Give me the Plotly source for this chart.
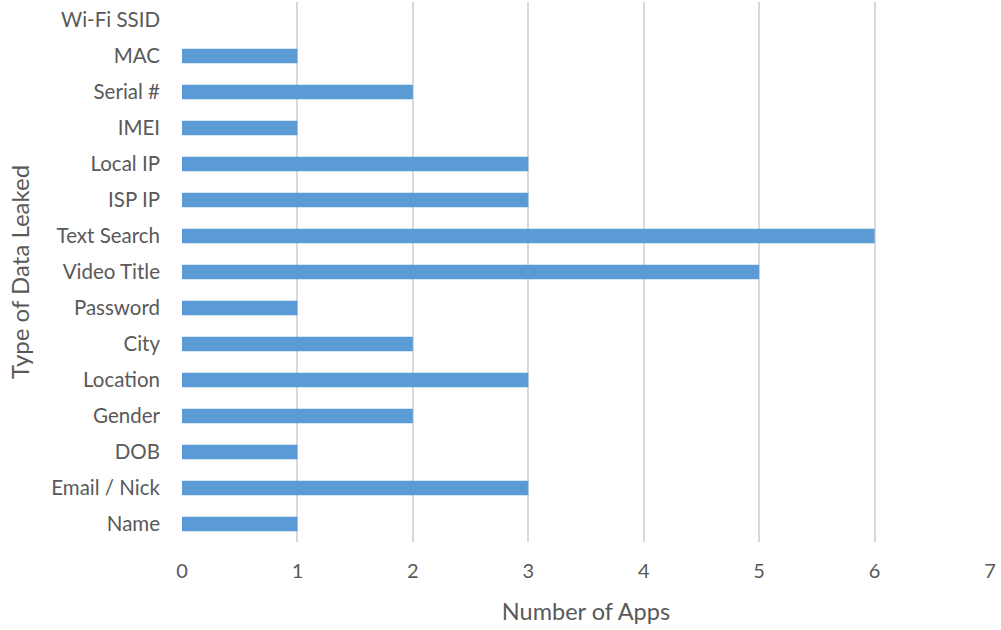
import plotly.graph_objects as go

categories = ["Name", "Email / Nick", "DOB", "Gender", "Location", "City", "Password",
              "Video Title", "Text Search", "ISP IP", "Local IP", "IMEI", "Serial #", "MAC", "Wi-Fi SSID"]
values = [1, 3, 1, 2, 3, 2, 1, 5, 6, 3, 3, 1, 2, 1, 0]
x_ticks = [0, 1, 2, 3, 4, 5, 6, 7]

txt = "#595959"
font = "Lato, 'Open Sans', sans-serif"

fig = go.Figure(go.Bar(
    y=categories, x=values, orientation="h",
    marker=dict(color="#5B9BD5", line=dict(width=0)),
))

fig.update_layout(
    width=1001, height=630,
    margin=dict(l=182, r=11, t=2, b=88),
    paper_bgcolor="white", plot_bgcolor="white",
    bargap=0.6,
    showlegend=False,
    font=dict(family=font, color=txt, size=20),
    xaxis=dict(
        range=[0, 7], tickvals=x_ticks, showgrid=True, gridcolor="#D9D9D9", gridwidth=1.5,
        zeroline=False, showline=False, ticks="", ticklabelstandoff=15,
        tickfont=dict(size=20, color=txt),
        title=dict(text="Number of Apps", font=dict(size=23.5, color=txt), standoff=22),
    ),
    yaxis=dict(
        categoryorder="array", categoryarray=categories,
        showgrid=False, zeroline=False, showline=False, ticks="", ticklabelstandoff=21,
        tickfont=dict(size=20.5, color=txt),
        title=dict(text="Type of Data Leaked", font=dict(size=24, color=txt), standoff=14),
    ),
)

fig.write_html("out.html")
